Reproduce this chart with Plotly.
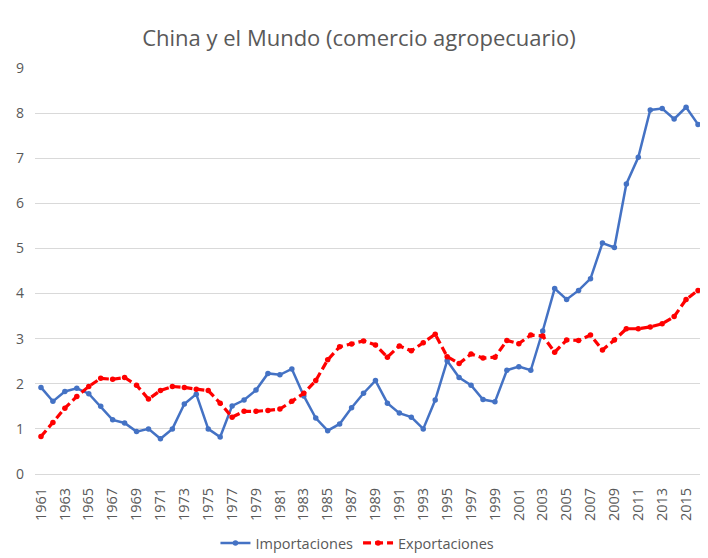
import plotly.graph_objects as go

years = list(range(1961, 2017))
importaciones = [1.92, 1.61, 1.83, 1.90, 1.78, 1.50, 1.20, 1.13, 0.94, 1.00,
                 0.78, 1.00, 1.55, 1.77, 1.00, 0.82, 1.51, 1.64, 1.86, 2.23,
                 2.20, 2.33, 1.73, 1.24, 0.96, 1.11, 1.47, 1.79, 2.07, 1.57,
                 1.35, 1.26, 1.00, 1.64, 2.51, 2.14, 1.97, 1.65, 1.60, 2.30,
                 2.38, 2.30, 3.17, 4.11, 3.87, 4.07, 4.33, 5.12, 5.02, 6.43,
                 7.02, 8.07, 8.10, 7.87, 8.13, 7.75]
exportaciones = [0.83, 1.14, 1.46, 1.72, 1.94, 2.12, 2.10, 2.14, 1.97, 1.66,
                 1.85, 1.94, 1.92, 1.88, 1.85, 1.57, 1.26, 1.39, 1.39, 1.41,
                 1.44, 1.61, 1.79, 2.07, 2.53, 2.82, 2.88, 2.95, 2.86, 2.59,
                 2.84, 2.73, 2.91, 3.10, 2.60, 2.45, 2.66, 2.57, 2.59, 2.96,
                 2.89, 3.08, 3.06, 2.70, 2.97, 2.96, 3.08, 2.75, 2.97, 3.22,
                 3.22, 3.26, 3.33, 3.49, 3.87, 4.07]
tick_years = list(range(1961, 2017, 2))
tick_labels = [str(y) for y in tick_years]

W, H = 700, 550  # page adds an 8px body margin

fig = go.Figure()
fig.add_trace(go.Scatter(
    x=years, y=importaciones, name="Importaciones", mode="lines+markers",
    line=dict(color="#4472C4", width=2.5),
    marker=dict(color="#4472C4", size=5.5, symbol="circle"),
    cliponaxis=False,
))
fig.add_trace(go.Scatter(
    x=years, y=exportaciones, name="Exportaciones", mode="lines+markers",
    line=dict(color="#FF0000", width=3.2, dash="8px,4px"),
    marker=dict(color="#FF0000", size=5.5, symbol="circle"),
    cliponaxis=False,
))

fig.update_layout(
    width=W, height=H,
    margin=dict(l=27, r=4, t=60, b=84, autoexpand=False),
    paper_bgcolor="white", plot_bgcolor="white",
    font=dict(family="Open Sans, Liberation Sans, sans-serif", color="#595959"),
    title=dict(text="China y el Mundo (comercio agropecuario)",
               x=351 / W, xanchor="center", y=1 - 30 / H, yanchor="middle",
               font=dict(size=22, color="#595959")),
    showlegend=True,
    legend=dict(orientation="h", xref="paper", x=0.482, xanchor="center",
                yref="container", y=1 - 535 / H, yanchor="middle",
                font=dict(size=14.5, color="#595959"), itemwidth=30,
                tracegroupgap=0),
    xaxis=dict(range=[1960.5, 2016.5], tickmode="array", tickvals=tick_years,
               ticktext=tick_labels, tickangle=-90, showgrid=False,
               zeroline=False, showline=False, ticks="", automargin=False,
               ticklabelstandoff=10,
               tickfont=dict(size=14.5, color="#595959")),
    yaxis=dict(range=[0, 9], dtick=1, showgrid=True, gridcolor="#d9d9d9",
               gridwidth=1, zeroline=True, zerolinecolor="#d9d9d9", zerolinewidth=1,
               showline=False, ticks="", automargin=False,
               tickfont=dict(size=14, color="#595959"),
               ticklabelstandoff=10),
)

fig.write_html("out.html")
